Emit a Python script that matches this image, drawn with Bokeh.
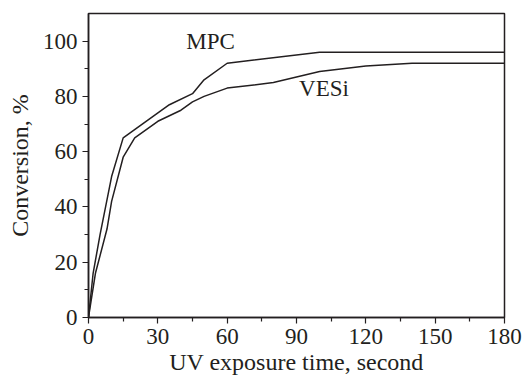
from bokeh.plotting import figure
from bokeh.models import FixedTicker, Label
from bokeh.embed import file_html
from bokeh.resources import INLINE

# Data
mpc_t = [0, 2, 5, 10, 15, 35, 45, 50, 60, 100, 180]
mpc_v = [0, 16, 30, 51, 65, 77, 81, 86, 92, 96, 96]

vesi_t = [0, 3, 8, 10, 15, 20, 30, 40, 45, 50, 60, 80, 100, 120, 140, 180]
vesi_v = [0, 16, 32, 42, 58, 65, 71, 75, 78, 80, 83, 85, 89, 91, 92, 92]

x_ticks = [0, 30, 60, 90, 120, 150, 180]
x_minor = [15, 45, 75, 105, 135, 165]
y_ticks = [0, 20, 40, 60, 80, 100]
y_minor = [10, 30, 50, 70, 90]

INK = "#231f20"
FONT = "Liberation Serif"

p = figure(width=525, height=377, x_range=(0, 180), y_range=(0, 110),
           output_backend="svg", toolbar_location=None,
           min_border_left=88, min_border_right=21,
           min_border_top=13, min_border_bottom=60)

p.line(mpc_t, mpc_v, line_color=INK, line_width=1.5)
p.line(vesi_t, vesi_v, line_color=INK, line_width=1.5)

p.add_layout(Label(x=52.8, y=99.9, text="MPC", text_align="center",
                   text_baseline="middle", text_font=FONT,
                   text_font_size="23px", text_color=INK))
p.add_layout(Label(x=101.9, y=82.7, text="VESi", text_align="center",
                   text_baseline="middle", text_font=FONT,
                   text_font_size="23px", text_color=INK))

p.xgrid.visible = False
p.ygrid.visible = False
p.outline_line_color = INK
p.outline_line_width = 1.5
p.background_fill_color = "white"
p.border_fill_color = "white"

p.xaxis.ticker = FixedTicker(ticks=x_ticks, minor_ticks=x_minor)
p.yaxis.ticker = FixedTicker(ticks=y_ticks, minor_ticks=y_minor)

for ax in (p.xaxis, p.yaxis):
    ax.axis_line_color = INK
    ax.axis_line_width = 1.5
    ax.major_tick_line_color = INK
    ax.minor_tick_line_color = INK
    ax.major_tick_line_width = 1.2
    ax.minor_tick_line_width = 1.2
    ax.major_tick_in = 0
    ax.major_tick_out = 6
    ax.minor_tick_in = 0
    ax.minor_tick_out = 4
    ax.major_label_text_font = FONT
    ax.major_label_text_font_size = "23px"
    ax.major_label_text_color = INK
    ax.axis_label_text_font = FONT
    ax.axis_label_text_font_style = "normal"
    ax.axis_label_text_font_size = "24px"
    ax.axis_label_text_color = INK

p.xaxis.axis_label = "UV exposure time, second"
p.yaxis.axis_label = "Conversion, %"
p.xaxis.major_label_standoff = 5
p.xaxis.axis_label_standoff = 2
p.yaxis.major_label_standoff = 5
p.yaxis.axis_label_standoff = 7

open("out.html", "w").write(file_html(p, INLINE))
